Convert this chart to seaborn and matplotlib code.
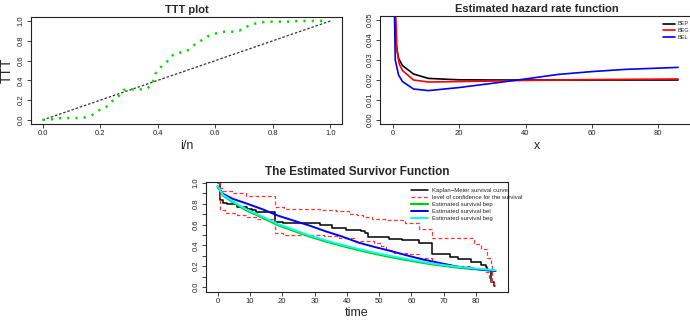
import numpy as np
import pandas as pd
import seaborn as sns
import matplotlib.pyplot as plt

# TTT plot (green dotted curve, black diagonal)
ttt_x = [0.0, 0.021, 0.042, 0.064, 0.084, 0.105, 0.126, 0.148, 0.168, 0.186, 0.203, 0.223, 0.237,
         0.253, 0.268, 0.281, 0.298, 0.318, 0.341, 0.362, 0.379, 0.387, 0.394, 0.408, 0.422,
         0.439, 0.455, 0.472, 0.493, 0.510, 0.527, 0.545, 0.563, 0.580, 0.596, 0.615, 0.631,
         0.648, 0.667, 0.684, 0.700, 0.724, 0.742, 0.762, 0.785, 0.806, 0.825, 0.845, 0.866,
         0.887, 0.904, 0.924, 0.939, 0.958, 0.976, 0.99]
ttt_y = [0.0, 0.007, 0.010, 0.020, 0.020, 0.020, 0.020, 0.027, 0.044, 0.074, 0.114, 0.135, 0.182,
         0.209, 0.253, 0.303, 0.310, 0.310, 0.310, 0.316, 0.354, 0.414, 0.478, 0.525, 0.566,
         0.606, 0.663, 0.680, 0.684, 0.714, 0.758, 0.791, 0.825, 0.855, 0.869, 0.886, 0.892,
         0.892, 0.892, 0.902, 0.936, 0.956, 0.976, 0.987, 0.993, 0.993, 0.993, 0.993, 0.993,
         1.0, 1.0, 1.0, 1.0, 1.0, 1.0, 1.0]
diag = [0.0, 1.0]

# hazard rate curves
bep_x = [0.4, 0.9, 1.7, 2.9, 6.2, 10.7, 19.8, 30, 50, 86]
bep_y = [0.06, 0.0383, 0.0308, 0.0272, 0.023, 0.0208, 0.0201, 0.0200, 0.0200, 0.0200]
beg_x = [0.6, 1.2, 1.9, 2.9, 6.2, 10.7, 19.8, 40, 60, 86]
beg_y = [0.065, 0.035, 0.028, 0.0247, 0.020, 0.019, 0.0192, 0.0198, 0.0202, 0.0205]
bel_x = [0.3, 0.7, 1.7, 2.9, 6.2, 10.7, 19.8, 29.8, 39.9, 49.9, 60, 70, 86]
bel_y = [0.07, 0.03, 0.0225, 0.0192, 0.0155, 0.0147, 0.0162, 0.0183, 0.0205, 0.0228, 0.0242,
         0.0253, 0.0263]

# Kaplan-Meier curve and confidence limits
km_t = [0, 0.8, 1.8, 2.8, 6, 9, 10.6, 12, 17.8, 20.1, 31.6, 35.5, 39.6, 44.5, 45.5, 46.5,
        53, 57, 62.5, 66.5, 72, 74.5, 78.5, 81.5, 83, 83.5, 84.5, 85.5, 86]
km_s = [1.0, 0.835, 0.81, 0.795, 0.77, 0.755, 0.74, 0.725, 0.63, 0.62, 0.595, 0.57, 0.55,
        0.535, 0.515, 0.485, 0.465, 0.45, 0.42, 0.315, 0.29, 0.27, 0.245, 0.215, 0.195,
        0.16, 0.05, 0.01, 0.01]
up_t = [0, 0.7, 1.7, 4.7, 8.7, 17.7, 20.6, 31.6, 36.6, 40.6, 43, 44.9, 47.9, 52.4, 58,
        62.5, 66.5, 79.5, 81.5, 83.5, 84.5, 85, 85.5]
up_s = [1.0, 0.95, 0.92, 0.90, 0.88, 0.77, 0.75, 0.74, 0.73, 0.70, 0.69, 0.67, 0.65, 0.64,
        0.62, 0.56, 0.47, 0.41, 0.37, 0.28, 0.2, 0.05, 0.02]
lo_t = [0, 0.8, 2.3, 6.1, 9.1, 12.1, 17.8, 20.1, 33, 37.6, 42.6, 48.5, 50.5, 52, 54.5,
        58.5, 62.5, 66.5, 72, 78.5, 81.5, 83, 84, 84.5, 85.5]
lo_s = [1.0, 0.74, 0.71, 0.69, 0.675, 0.65, 0.52, 0.505, 0.49, 0.475, 0.445, 0.42, 0.39,
        0.36, 0.33, 0.315, 0.28, 0.22, 0.205, 0.185, 0.17, 0.14, 0.09, 0.04, 0.03]

# fitted survival curves
fit_t = [0, 1.7, 4.7, 8.7, 13.7, 18.7, 23.6, 28.6, 33.6, 38.6, 43.6, 48.6, 53.6, 58.6,
         63.5, 68.5, 73.5, 78.5, 83.5, 86]
bel_s = [0.963, 0.896, 0.848, 0.806, 0.75, 0.686, 0.638, 0.589, 0.534, 0.485, 0.427, 0.385,
         0.346, 0.304, 0.265, 0.233, 0.2, 0.178, 0.162, 0.155]
bep_s = [0.97, 0.88, 0.816, 0.741, 0.67, 0.595, 0.54, 0.485, 0.437, 0.395, 0.356, 0.32,
         0.288, 0.259, 0.233, 0.21, 0.19, 0.175, 0.162, 0.155]
beg_s = [0.97, 0.885, 0.824, 0.75, 0.68, 0.605, 0.55, 0.495, 0.447, 0.405, 0.366, 0.33,
         0.298, 0.268, 0.241, 0.217, 0.197, 0.181, 0.168, 0.162]

sns.set_style("ticks")
plt.rcParams['font.family'] = ['Liberation Sans', 'DejaVu Sans']

W, H = 690, 320
fig = plt.figure(figsize=(6.9, 3.2), dpi=100)
ax1 = fig.add_axes([31 / W, 1 - 124 / H, 311 / W, 107 / H])
ax2 = fig.add_axes([380 / W, 1 - 124 / H, 313 / W, 108 / H])
ax3 = fig.add_axes([206 / W, 1 - 292 / H, 302 / W, 110 / H])

# TTT plot
sns.lineplot(x=diag, y=diag, ax=ax1, color='#333333', lw=0.9, errorbar=None)
ax1.lines[-1].set_dashes((2, 1.5))
sns.lineplot(x=ttt_x, y=ttt_y, ax=ax1, color='#00dd00', lw=1.8, errorbar=None, sort=False)
ax1.lines[-1].set_dashes((0.9, 2.4))
ax1.set_xlim(-0.04, 1.04)
ax1.set_ylim(-0.04, 1.04)
ax1.set_xticks(np.arange(0, 1.01, 0.2))
ax1.set_yticks(np.arange(0, 1.01, 0.2))
ax1.set_xticklabels([f"{v:.1f}" for v in np.arange(0, 1.01, 0.2)])
ax1.set_yticklabels([f"{v:.1f}" for v in np.arange(0, 1.01, 0.2)])
ax1.set_title("TTT plot", fontsize=8, fontweight='bold', pad=3)
ax1.set_xlabel("i/n", fontsize=9, labelpad=2)
ax1.set_ylabel("TTT", fontsize=10, labelpad=3)

# hazard rate
sns.lineplot(x=bep_x, y=bep_y, ax=ax2, color='black', lw=1.2, label='BEP', errorbar=None)
sns.lineplot(x=beg_x, y=beg_y, ax=ax2, color='red', lw=1.2, label='BEG', errorbar=None)
sns.lineplot(x=bel_x, y=bel_y, ax=ax2, color='blue', lw=1.2, label='BEL', errorbar=None)
ax2.set_xlim(-3.9, 90.5)
ax2.set_ylim(-0.002, 0.052)
ax2.set_xticks([0, 20, 40, 60, 80])
ax2.set_yticks(np.arange(0, 0.051, 0.01))
ax2.set_yticklabels([f"{v:.2f}" for v in np.arange(0, 0.051, 0.01)])
ax2.set_title("Estimated hazard rate function", fontsize=8, fontweight='bold', pad=3)
ax2.set_xlabel("x", fontsize=9, labelpad=2)
ax2.set_ylabel("")
ax2.legend(loc='upper left', bbox_to_anchor=(0.895, 0.975), frameon=False, fontsize=4,
           handlelength=2.2, handletextpad=0.5, labelspacing=0.35, borderpad=0)

# survival
sns.lineplot(x=km_t, y=km_s, ax=ax3, color='black', lw=1.1, drawstyle='steps-post',
             label='Kaplan\u2212Meier survival curve', errorbar=None)
sns.lineplot(x=up_t, y=up_s, ax=ax3, color='#ff3030', lw=0.9, drawstyle='steps-post',
             label='level of confidence for the survival', errorbar=None)
ax3.lines[-1].set_dashes((3, 2))
sns.lineplot(x=lo_t, y=lo_s, ax=ax3, color='#ff3030', lw=0.9, drawstyle='steps-post',
             errorbar=None)
ax3.lines[-1].set_dashes((3, 2))
sns.lineplot(x=fit_t, y=bep_s, ax=ax3, color='#00cc00', lw=1.6,
             label='Estimated survival bep', errorbar=None)
sns.lineplot(x=fit_t, y=bel_s, ax=ax3, color='blue', lw=1.4,
             label='Estimated survival bel', errorbar=None)
sns.lineplot(x=fit_t, y=beg_s, ax=ax3, color='cyan', lw=1.4,
             label='Estimated survival beg', errorbar=None)
ax3.set_xlim(-3.6, 89.9)
ax3.set_ylim(-0.048, 1.01)
ax3.set_xticks(np.arange(0, 81, 10))
yt = np.arange(0, 1.01, 0.1)
ax3.set_yticks(yt)
ax3.set_yticklabels([f"{v:.1f}" if i % 2 == 0 else "" for i, v in enumerate(yt)])
ax3.set_title("The Estimated Survivor Function", fontsize=8.5, fontweight='bold', pad=5)
ax3.set_xlabel("time", fontsize=9, labelpad=1)
ax3.set_ylabel("")
ax3.legend(loc='upper left', bbox_to_anchor=(0.67, 0.975), frameon=False, fontsize=4.3,
           handlelength=2.8, handletextpad=0.6, labelspacing=0.3, borderpad=0)

for ax in (ax1, ax2, ax3):
    for s in ax.spines.values():
        s.set_visible(True)
        s.set_color('#222222')
        s.set_linewidth(0.8)
    ax.tick_params(axis='both', labelsize=5.5, length=3, width=0.6, pad=1.5, colors='#222222')
    ax.tick_params(axis='y', labelrotation=90)
    for lab in ax.get_yticklabels():
        lab.set_va('center')

fig.savefig("out.png", dpi=100)
